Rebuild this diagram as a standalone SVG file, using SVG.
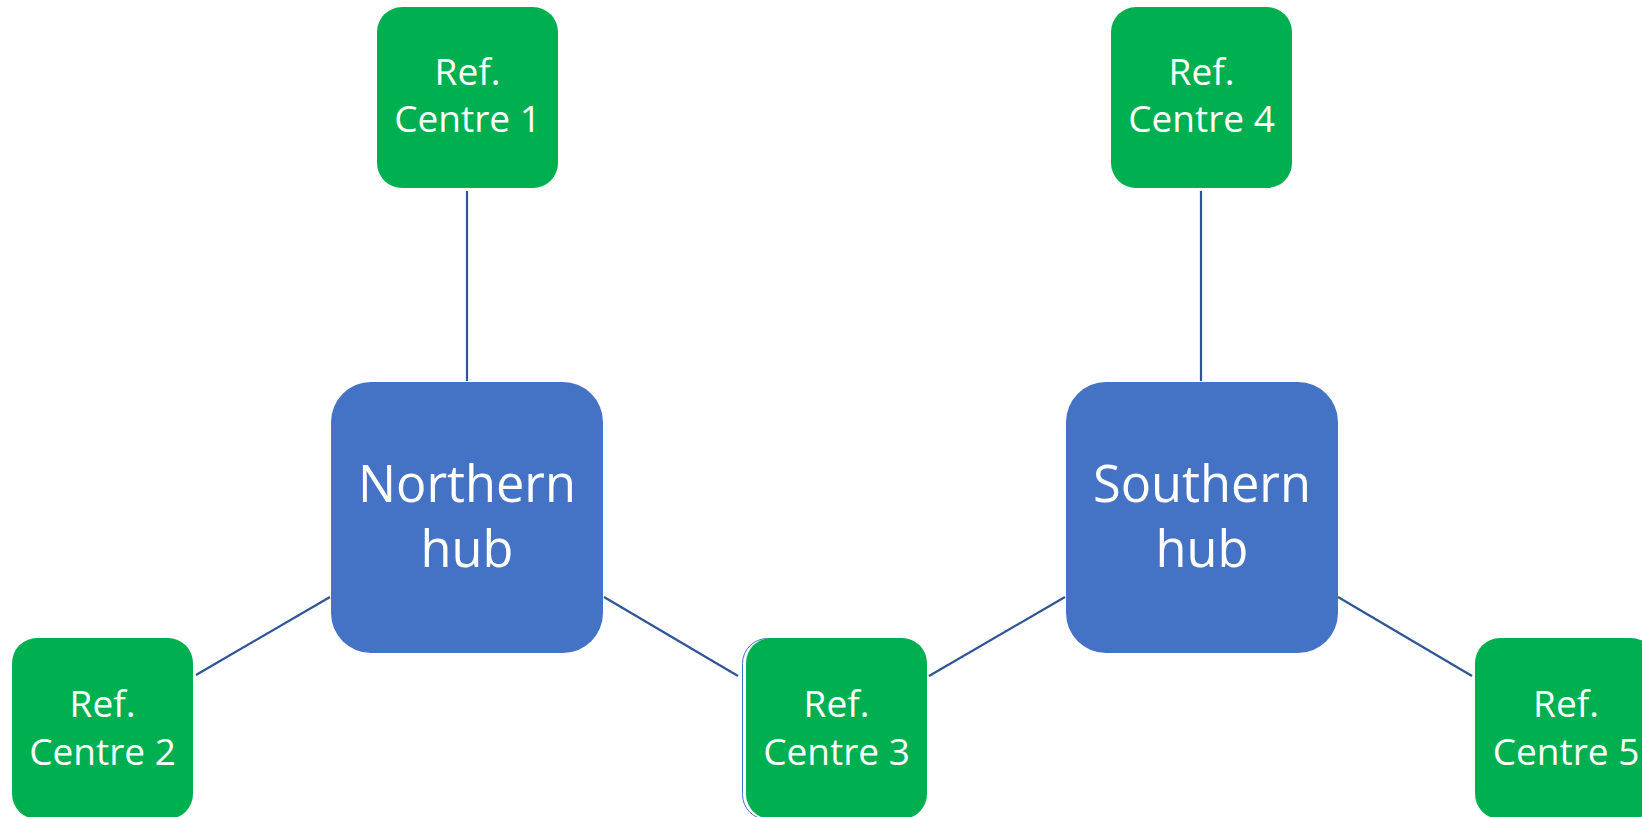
<svg xmlns="http://www.w3.org/2000/svg" width="1642" height="817" viewBox="0 0 1642 817">
  <style>
    .ref { fill: #00B050; }
    .hub { fill: #4472C4; }
    .t { fill: #FFFFFF; font-family: "Open Sans", "Liberation Sans", sans-serif; text-anchor: middle; }
    .ts { font-size: 37px; }
    .tl { font-size: 50.5px; }
    .conn line { stroke: #2F5597; stroke-width: 2.2; fill: none; }
  </style>
  <rect width="1642" height="817" fill="#FFFFFF"/>
  <g id="connectors" class="conn">
    <line x1="467" y1="191" x2="467" y2="381"/>
    <line x1="1201" y1="191" x2="1201" y2="381"/>
    <line x1="330" y1="597" x2="196" y2="675"/>
    <line x1="604" y1="597" x2="738" y2="676"/>
    <line x1="1065" y1="597" x2="929" y2="676"/>
    <line x1="1338" y1="597" x2="1472" y2="676"/>
  </g>
  <g id="ref-centre-1">
    <rect class="ref" x="377" y="7" width="181" height="181" rx="25" ry="25"/>
    <text class="t ts" x="467.5" y="85">Ref.</text>
    <text class="t ts" x="467.5" y="132">Centre 1</text>
  </g>
  <g id="ref-centre-4">
    <rect class="ref" x="1111" y="7" width="181" height="181" rx="25" ry="25"/>
    <text class="t ts" x="1201.5" y="85">Ref.</text>
    <text class="t ts" x="1201.5" y="132">Centre 4</text>
  </g>
  <g id="northern-hub">
    <rect class="hub" x="331" y="382" width="272" height="271" rx="40" ry="40"/>
    <text class="t tl" x="467" y="502">Northern</text>
    <text class="t tl" x="467" y="567">hub</text>
  </g>
  <g id="southern-hub">
    <rect class="hub" x="1066" y="382" width="272" height="271" rx="40" ry="40"/>
    <text class="t tl" x="1202" y="502">Southern</text>
    <text class="t tl" x="1202" y="567">hub</text>
  </g>
  <g id="ref-centre-2">
    <rect class="ref" x="12" y="638" width="181" height="181" rx="25" ry="25"/>
    <text class="t ts" x="102.5" y="717">Ref.</text>
    <text class="t ts" x="102.5" y="765">Centre 2</text>
  </g>
  <g id="ref-centre-3">
    <rect x="742.5" y="638.5" width="181" height="181" rx="25" ry="25" fill="none" stroke="#4472C4" stroke-width="1"/>
    <rect class="ref" x="746" y="638" width="181" height="181" rx="25" ry="25"/>
    <text class="t ts" x="836.5" y="717">Ref.</text>
    <text class="t ts" x="836.5" y="765">Centre 3</text>
  </g>
  <g id="ref-centre-5">
    <rect class="ref" x="1475" y="638" width="181" height="181" rx="25" ry="25"/>
    <text class="t ts" x="1566" y="717">Ref.</text>
    <text class="t ts" x="1566" y="765">Centre 5</text>
  </g>
</svg>
